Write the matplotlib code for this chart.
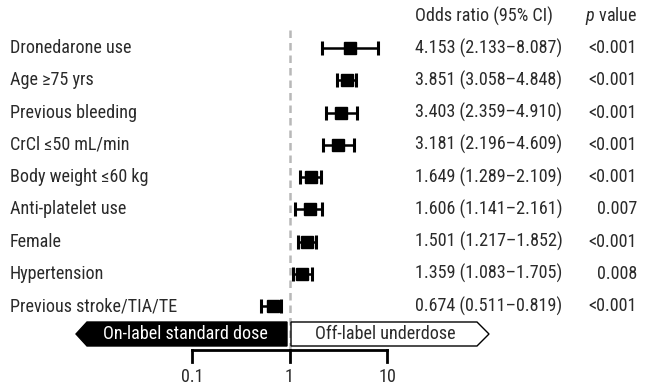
import numpy as np
import matplotlib
matplotlib.use('Agg')
import matplotlib.pyplot as plt
from matplotlib.patches import Polygon
from matplotlib.transforms import blended_transform_factory

plt.rcParams['font.family'] = ['Roboto Condensed', 'Roboto', 'DejaVu Sans']
plt.rcParams['mathtext.fontset'] = 'custom'
plt.rcParams['mathtext.it'] = 'Roboto Condensed:italic'
plt.rcParams['mathtext.rm'] = 'Roboto Condensed'

# data
labels = ['Dronedarone use', 'Age \u226575 yrs', 'Previous bleeding', 'CrCl \u226450 mL/min',
          'Body weight \u226460 kg', 'Anti-platelet use', 'Female', 'Hypertension',
          'Previous stroke/TIA/TE']
odds = [4.153, 3.851, 3.403, 3.181, 1.649, 1.606, 1.501, 1.359, 0.674]
ci_low = [2.133, 3.058, 2.359, 2.196, 1.289, 1.141, 1.217, 1.083, 0.511]
ci_high = [8.087, 4.848, 4.910, 4.609, 2.109, 2.161, 1.852, 1.705, 0.819]
pvals = ['<0.001', '<0.001', '<0.001', '<0.001', '<0.001', '0.007', '<0.001', '0.008', '<0.001']
xticks = [0.1, 1, 10]

W, H = 645, 388
PX_DEC = 97.5   # pixels per decade
X01 = 192       # pixel of 0.1


def px2x(px):
    return 10 ** (-1 + (px - X01) / PX_DEC)


ROW0, ROWH = 48, 32.25


def py2y(py):
    return (py - ROW0) / ROWH


fig = plt.figure(figsize=(W / 100, H / 100), dpi=100)
ax = fig.add_axes([0, 0, 1, 1])
ax.set_xscale('log')
ax.set_xlim(px2x(0), px2x(W))
ax.set_ylim(py2y(H), py2y(0))
ax.axis('off')

fs = 13.1
tc = '#2a2a2a'
rows = np.arange(len(labels))

# reference line
ax.plot([1, 1], [py2y(30), py2y(352)], color='#b8b8b8', lw=1.8, ls=(0, (3, 2)), zorder=1)

odds_a = np.array(odds)
err = [odds_a - np.array(ci_low), np.array(ci_high) - odds_a]
ax.errorbar(odds, rows, xerr=err, fmt='s', color='black', ms=9,
            elinewidth=1.8, capsize=5, capthick=2.2, zorder=3)

btr = blended_transform_factory(ax.transAxes, ax.transData)
for i, lab in enumerate(labels):
    ax.text(10 / W, i, lab, transform=btr, ha='left', va='center', fontsize=fs, color=tc)
    ax.text(415 / W, i, '%.3f (%.3f\u2013%.3f)' % (odds[i], ci_low[i], ci_high[i]),
            transform=btr, ha='left', va='center', fontsize=fs, color=tc)
    ax.text(637 / W, i, pvals[i], transform=btr, ha='right', va='center', fontsize=fs, color=tc)

ax.text(415 / W, py2y(16), 'Odds ratio (95% CI)', transform=btr, ha='left', va='center',
        fontsize=fs, color=tc)
ax.text(637 / W, py2y(16), '$p$ value', transform=btr, ha='right', va='center',
        fontsize=fs, color=tc)

# direction arrows
yt, yb = py2y(322), py2y(346)
ym = (yt + yb) / 2
left = Polygon([(px2x(76), ym), (px2x(87), yt), (px2x(287), yt), (px2x(287), yb), (px2x(87), yb)],
               closed=True, facecolor='black', edgecolor='black', lw=1)
right = Polygon([(px2x(291), yt), (px2x(477), yt), (px2x(489), ym), (px2x(477), yb), (px2x(291), yb)],
                closed=True, facecolor='white', edgecolor='black', lw=1)
ax.add_patch(left)
ax.add_patch(right)
ax.text(px2x(185), ym, 'On-label standard dose', color='white', ha='center', va='center', fontsize=fs)
ax.text(px2x(385), ym, 'Off-label underdose', color=tc, ha='center', va='center', fontsize=fs)

# x axis bracket
ya, yk = py2y(350), py2y(362)
ax.plot([xticks[0], xticks[-1]], [ya, ya], color='black', lw=2)
for t in xticks:
    ax.plot([t, t], [ya, yk], color='black', lw=2)
    ax.text(t, py2y(377), '%g' % t, ha='center', va='center', fontsize=fs, color=tc)

fig.savefig('out.png', dpi=100)
